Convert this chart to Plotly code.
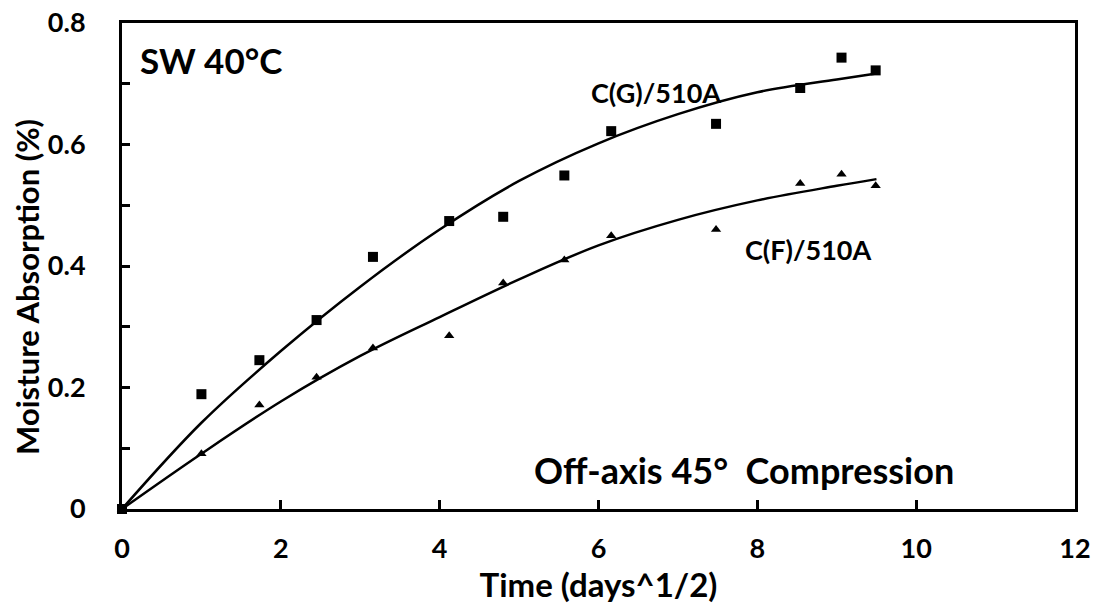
import plotly.graph_objects as go

# Square root of exposure time (days^1/2)
time_sqrt = [0, 1.0, 1.73, 2.45, 3.16, 4.12, 4.80, 5.57, 6.16, 7.48, 8.54, 9.06, 9.49]

# Measured moisture uptake (%)
cg_uptake = [0, 0.189, 0.245, 0.311, 0.415, 0.474, 0.481, 0.549, 0.622, 0.634, 0.693, 0.743, 0.722]
cf_uptake = [0, 0.091, 0.171, 0.217, 0.265, 0.285, 0.372, 0.410, 0.450, 0.460, 0.536, 0.551, 0.532]

# Fitted uptake curves
fit_x = [0, 1, 2, 3, 4, 5, 6, 7, 8, 9, 9.5]
cg_fit = [0, 0.142, 0.260, 0.366, 0.460, 0.540, 0.602, 0.650, 0.686, 0.707, 0.717]
cf_fit = [0, 0.091, 0.177, 0.252, 0.316, 0.378, 0.434, 0.476, 0.508, 0.532, 0.543]

x_ticks = [0, 2, 4, 6, 8, 10, 12]
y_ticks = [0, 0.1, 0.2, 0.3, 0.4, 0.5, 0.6, 0.7, 0.8]
y_tick_text = ["0", "", "0.2", "", "0.4", "", "0.6", "", "0.8"]

FONT = "Lato"

fig = go.Figure()

for fx, fy in [(fit_x, cg_fit), (fit_x, cf_fit)]:
    fig.add_trace(go.Scatter(
        x=fx, y=fy, mode="lines",
        line=dict(color="black", width=2.5, shape="spline", smoothing=1.0),
        hoverinfo="skip", showlegend=False,
    ))

fig.add_trace(go.Scatter(
    x=time_sqrt, y=cf_uptake, mode="markers", name="C(F)/510A",
    marker=dict(symbol="triangle-up", size=9, color="black"),
    cliponaxis=False, showlegend=False,
))
fig.add_trace(go.Scatter(
    x=time_sqrt, y=cg_uptake, mode="markers", name="C(G)/510A",
    marker=dict(symbol="square", size=10, color="black"),
    cliponaxis=False, showlegend=False,
))

annotations = [
    dict(x=0.2, y=0.739, text="<b>SW 40°C</b>", size=35, xanchor="left"),
    dict(x=6.73, y=0.685, text="<b>C(G)/510A</b>", size=27, xanchor="center"),
    dict(x=8.65, y=0.427, text="<b>C(F)/510A</b>", size=27, xanchor="center"),
    dict(x=7.83, y=0.065, text="<b>Off-axis 45°\u00a0\u00a0Compression</b>", size=36, xanchor="center"),
]
for a in annotations:
    fig.add_annotation(
        x=a["x"], y=a["y"], text=a["text"], showarrow=False,
        xanchor=a["xanchor"], yanchor="middle",
        font=dict(family=FONT, size=a["size"], color="black"),
    )

# Y-axis title, placed slightly below the plot's vertical centre
fig.add_annotation(
    x=-0.0997, y=0.457, xref="paper", yref="paper",
    text="<b>Moisture Absorption (%)</b>", textangle=-90, showarrow=False,
    xanchor="center", yanchor="middle",
    font=dict(family=FONT, size=31, color="black"),
)

fig.update_layout(
    width=1099, height=615,
    margin=dict(l=122, r=24, t=23, b=106),
    paper_bgcolor="white", plot_bgcolor="white",
    font=dict(family=FONT, color="black"),
)

fig.update_xaxes(
    range=[0, 12], tickvals=x_ticks, ticktext=[f"<b>{v}</b>" for v in x_ticks],
    ticks="inside", ticklen=9, tickwidth=3, tickcolor="black",
    showline=True, linewidth=3, linecolor="black", mirror=True,
    showgrid=False, zeroline=False, automargin=False,
    tickfont=dict(family=FONT, size=27, color="black", weight="bold"),
    ticklabelstandoff=14,
    title=dict(text="<b>Time (days^1/2)</b>", font=dict(family=FONT, size=33, color="black"), standoff=6),
)
fig.update_yaxes(
    range=[0, 0.8], tickvals=y_ticks,
    ticktext=[f"<b>{t}</b>" if t else "" for t in y_tick_text],
    ticks="inside", ticklen=8, tickwidth=3, tickcolor="black",
    showline=True, linewidth=3, linecolor="black", mirror=True,
    showgrid=False, zeroline=False, automargin=False,
    tickfont=dict(family=FONT, size=27, color="black", weight="bold"),
    ticklabelstandoff=28,
)

fig.write_html("out.html")
